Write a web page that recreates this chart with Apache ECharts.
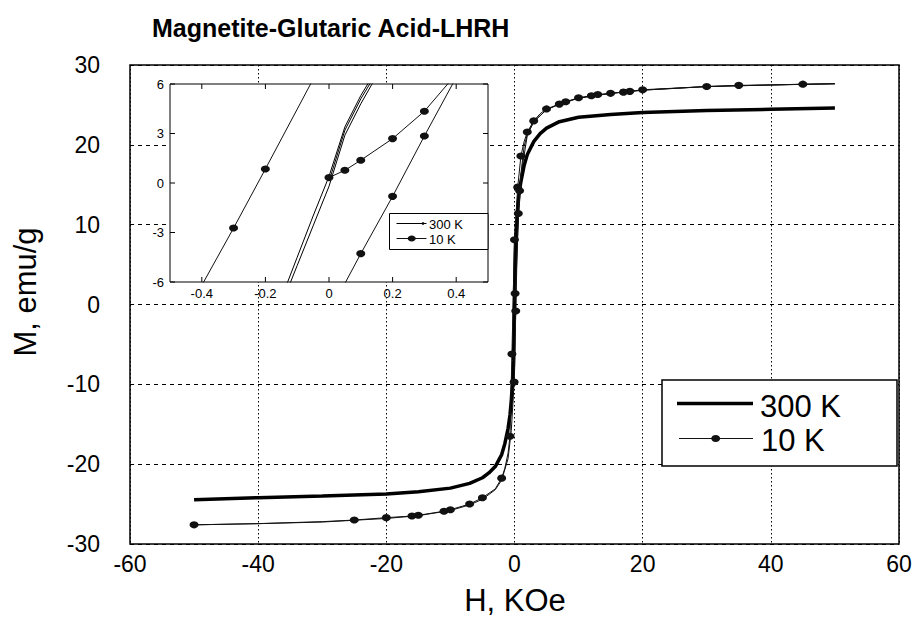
<!DOCTYPE html>
<html><head><meta charset="utf-8">
<script src="https://cdn.jsdelivr.net/npm/echarts@6/dist/echarts.min.js"></script>
<style>html,body{margin:0;padding:0;background:#fff}#c{width:917px;height:620px}</style>
</head><body><div id="c"></div>
<script>
const FONT = '"Liberation Sans", Arial, Helvetica, sans-serif';

// ---- tick labels ----
const mainXTicks = [-60, -40, -20, 0, 20, 40, 60];
const mainYTicks = [-30, -20, -10, 0, 10, 20, 30];
const insetXTicks = [-0.4, -0.2, 0, 0.2, 0.4];
const insetYTicks = [-6, -3, 0, 3, 6];
const insetXRange = [-0.5, 0.5];

// ---- 300 K (H in kOe, M in emu/g) ----
const hotVirginH = [0, 0.05, 0.1, 0.15, 0.2, 0.3, 0.5, 0.7, 1, 1.5, 2, 3, 4, 5, 7, 10, 15, 20, 30, 40, 50];
const hotVirginM = [0.1, 3.2, 5.1, 6.7, 8.1, 9.6, 12.0, 13.8, 15.4, 17.4, 18.8, 20.4, 21.4, 22.1, 22.9, 23.45, 23.8, 24.05, 24.3, 24.45, 24.6];
const hotDescH = [50, 40, 30, 20, 15, 10, 7, 5, 4, 3, 2, 1.5, 1, 0.7, 0.5, 0.3, 0.2, 0.15, 0.1, 0.05, 0, -0.05, -0.1, -0.15, -0.2, -0.3, -0.5, -0.7, -1, -1.5, -2, -3, -4, -5, -7, -10, -15, -20, -30, -40, -50];
const hotDescM = [24.6, 24.45, 24.3, 24.05, 23.8, 23.45, 22.9, 22.1, 21.4, 20.4, 18.8, 17.4, 15.4, 13.8, 12.0, 9.8, 8.3, 6.9, 5.3, 3.4, 0.4, -2.0, -4.5, -7.0, -8.4, -9.6, -12.0, -13.8, -15.5, -17.4, -18.8, -20.3, -21.1, -21.7, -22.4, -23.0, -23.45, -23.75, -24.0, -24.2, -24.45];
const hotAscH = [-50, -40, -30, -20, -15, -10, -7, -5, -4, -3, -2, -1.5, -1, -0.7, -0.5, -0.3, -0.2, -0.15, -0.1, -0.05, 0, 0.05, 0.1, 0.15, 0.2, 0.3, 0.5, 0.7, 1, 1.5, 2, 3, 4, 5, 7, 10, 15, 20, 30, 40, 50];
const hotAscM = [-24.45, -24.2, -24.0, -23.75, -23.45, -23.0, -22.4, -21.7, -21.1, -20.3, -18.8, -17.4, -15.5, -13.8, -12.0, -9.8, -8.6, -7.4, -5.0, -2.6, -0.2, 2.9, 4.8, 6.5, 8.0, 9.6, 12.0, 13.8, 15.4, 17.4, 18.8, 20.4, 21.4, 22.1, 22.9, 23.45, 23.8, 24.05, 24.3, 24.45, 24.6];

// ---- 10 K ----
const coldVirginH = [0, 0.05, 0.1, 0.2, 0.3, 0.4, 0.6, 1, 2, 3, 5, 7, 10, 15, 20, 30, 40, 50];
const coldVirginM = [0.33, 0.77, 1.38, 2.69, 4.35, 6.6, 10.6, 16.2, 21.2, 22.9, 24.4, 25.1, 25.85, 26.45, 26.85, 27.3, 27.5, 27.65];
const coldDescH = [50, 45, 40, 35, 30, 25, 20, 18, 17, 15, 13, 12, 10, 8, 7, 5, 4, 3, 2, 1.5, 1, 0.5, 0, -0.2, -0.3, -0.4, -0.7, -1, -1.5, -2, -3, -5, -7, -10, -11, -15, -16, -20, -25, -30, -40, -50];
const coldDescM = [27.65, 27.6, 27.5, 27.45, 27.3, 27.1, 26.9, 26.7, 26.6, 26.45, 26.3, 26.15, 25.9, 25.4, 25.1, 24.5, 23.9, 23.0, 21.6, 20.4, 18.6, 14.7, 8.1, 0.85, -2.73, -6.2, -16.5, -18.6, -20.5, -21.75, -23.1, -24.2, -25.0, -25.7, -25.9, -26.4, -26.5, -26.7, -27.0, -27.2, -27.45, -27.6];
const coldAscH = [-50, -40, -30, -20, -15, -10, -7, -5, -3, -2, -1, -0.5, -0.05, 0.1, 0.2, 0.3, 0.4, 0.6, 0.8, 1, 1.5, 2, 3, 5, 7, 10, 15, 20, 30, 40, 50];
const coldAscM = [-27.6, -27.45, -27.25, -26.8, -26.45, -25.8, -25.1, -24.4, -23.2, -22.0, -19.3, -15.8, -9.7, -4.28, -0.81, 2.85, 6.4, 11.4, 14.25, 16.4, 19.8, 21.3, 22.9, 24.4, 25.1, 25.85, 26.45, 26.85, 27.3, 27.5, 27.65];
// points that carry a marker (main plot / inset)
const mainVirginMarks = [0.1];
const mainDescMarks = [45, 35, 30, 20, 18, 17, 15, 13, 12, 10, 8, 7, 5, 3, 2, 1, 0.5, 0, -0.4, -0.7, -2, -5, -7, -10, -11, -15, -16, -20, -25, -50];
const mainAscMarks = [-0.05, 0.2, 0.6, 0.8];
const insetVirginMarks = [0, 0.05, 0.1, 0.2, 0.3];
const insetDescMarks = [-0.2, -0.3];
const insetAscMarks = [0.1, 0.2, 0.3];

function pairs(hs, ms) { return hs.map((h, i) => [h, ms[i]]); }
function marked(hs, ms, marks) {
  return hs.map((h, i) => ({ value: [h, ms[i]], symbol: marks.indexOf(h) >= 0 ? 'circle' : 'none' }));
}
const hotData = [].concat(pairs(hotVirginH, hotVirginM), pairs(hotDescH, hotDescM), pairs(hotAscH, hotAscM));
const coldMain = [].concat(
  marked(coldVirginH, coldVirginM, mainVirginMarks),
  marked(coldDescH, coldDescM, mainDescMarks),
  marked(coldAscH, coldAscM, mainAscMarks));
const coldInset = [].concat(
  marked(coldVirginH, coldVirginM, insetVirginMarks),
  marked(coldDescH, coldDescM, insetDescMarks),
  marked(coldAscH, coldAscM, insetAscMarks));

const chart = echarts.init(document.getElementById('c'), null, { renderer: 'svg' });
const lbl = (fs, m) => ({ color: '#000', fontFamily: FONT, fontSize: fs, margin: m });
const TICK = 5;
const tickStyle = { stroke: '#000', lineWidth: 1 };

// inward frame ticks of the inset, placed through the inset's own scales
function insetXTickItem(params, api) {
  const v = api.value(0);
  const b = api.coord([v, insetYTicks[0]]);
  const t = api.coord([v, insetYTicks[insetYTicks.length - 1]]);
  return { type: 'group', children: [
    { type: 'line', shape: { x1: b[0], y1: b[1], x2: b[0], y2: b[1] - TICK }, style: tickStyle },
    { type: 'line', shape: { x1: t[0], y1: t[1], x2: t[0], y2: t[1] + TICK }, style: tickStyle }
  ] };
}
function insetYTickItem(params, api) {
  const v = api.value(1);
  const l = api.coord([insetXRange[0], v]);
  const r = api.coord([insetXRange[1], v]);
  return { type: 'group', children: [
    { type: 'line', shape: { x1: l[0], y1: l[1], x2: l[0] + TICK, y2: l[1] }, style: tickStyle },
    { type: 'line', shape: { x1: r[0], y1: r[1], x2: r[0] - TICK, y2: r[1] }, style: tickStyle }
  ] };
}

const option = {
  animation: false,
  backgroundColor: '#fff',
  textStyle: { fontFamily: FONT },
  grid: [
    { left: 130, top: 65, right: 18, bottom: 76, show: true, borderColor: '#000', borderWidth: 1.5, backgroundColor: 'transparent', z: 1 },
    { left: 170, top: 84, width: 318, height: 198, show: true, borderColor: '#000', borderWidth: 1, backgroundColor: '#fff', z: 10 }
  ],
  xAxis: [
    { gridIndex: 0, type: 'value', min: mainXTicks[0], max: mainXTicks[mainXTicks.length - 1], interval: 20,
      axisLine: { show: false, onZero: false }, axisTick: { show: false },
      axisLabel: lbl(23, 8),
      splitLine: { show: true, lineStyle: { color: '#000', width: 1, type: [1.5, 2.5] } }, z: 0 },
    { gridIndex: 1, type: 'value', position: 'bottom', min: insetXRange[0], max: insetXRange[1],
      axisLine: { show: false, onZero: false }, axisTick: { show: false },
      axisLabel: Object.assign(lbl(13, 5), { customValues: insetXTicks, formatter: v => (v === 0 ? '0' : String(v)) }),
      splitLine: { show: false }, z: 11 }
  ],
  yAxis: [
    { gridIndex: 0, type: 'value', min: mainYTicks[0], max: mainYTicks[mainYTicks.length - 1], interval: 10,
      axisLine: { show: false, onZero: false }, axisTick: { show: false },
      axisLabel: lbl(23, 30),
      splitLine: { show: true, lineStyle: { color: '#000', width: 1, type: [4, 4] } }, z: 0 },
    { gridIndex: 1, type: 'value', position: 'left', min: insetYTicks[0], max: insetYTicks[insetYTicks.length - 1], interval: 3,
      axisLine: { show: false, onZero: false }, axisTick: { show: false },
      axisLabel: lbl(13, 6), splitLine: { show: false }, z: 11 }
  ],
  series: [
    { name: '300 K', type: 'line', xAxisIndex: 0, yAxisIndex: 0, data: hotData, symbol: 'none', showSymbol: false,
      lineStyle: { color: '#000', width: 3.5 }, z: 3, silent: true },
    { name: '10 K', type: 'line', xAxisIndex: 0, yAxisIndex: 0, data: coldMain, symbolSize: [9, 7], showSymbol: true,
      itemStyle: { color: '#111' }, lineStyle: { color: '#111', width: 1 }, z: 4, silent: true },
    { name: '300 K inset', type: 'line', xAxisIndex: 1, yAxisIndex: 1, data: hotData, symbol: 'none', showSymbol: false,
      lineStyle: { color: '#000', width: 1 }, z: 12, silent: true, clip: true },
    { name: '10 K inset', type: 'line', xAxisIndex: 1, yAxisIndex: 1, data: coldInset, symbolSize: [9, 7], showSymbol: true,
      itemStyle: { color: '#111' }, lineStyle: { color: '#111', width: 1 }, z: 13, silent: true, clip: true },
    { name: 'inset x ticks', type: 'custom', xAxisIndex: 1, yAxisIndex: 1, data: insetXTicks.map(v => [v, 0]),
      renderItem: insetXTickItem, z: 14, silent: true, clip: false },
    { name: 'inset y ticks', type: 'custom', xAxisIndex: 1, yAxisIndex: 1, data: insetYTicks.map(v => [0, v]),
      renderItem: insetYTickItem, z: 14, silent: true, clip: false }
  ],
  graphic: [
    { type: 'text', x: 152, y: 28, z: 30, style: { text: 'Magnetite-Glutaric Acid-LHRH', fontFamily: FONT, fontWeight: 'bold', fontSize: 25, fill: '#000', align: 'left', verticalAlign: 'middle' } },
    { type: 'text', x: 515, y: 600, z: 30, style: { text: 'H, KOe', fontFamily: FONT, fontSize: 31, fill: '#000', align: 'center', verticalAlign: 'middle' } },
    { type: 'text', x: 25, y: 292, rotation: Math.PI / 2, z: 30, style: { text: 'M, emu/g', fontFamily: FONT, fontSize: 31, fill: '#000', align: 'center', verticalAlign: 'middle' } },
    // main legend
    { type: 'rect', z: 30, shape: { x: 662, y: 380, width: 235, height: 86 }, style: { fill: '#fff', stroke: '#000', lineWidth: 1.5 } },
    { type: 'line', z: 31, shape: { x1: 677, y1: 403.5, x2: 753, y2: 403.5 }, style: { stroke: '#000', lineWidth: 3.5 } },
    { type: 'text', x: 760, y: 406, z: 31, style: { text: '300 K', fontFamily: FONT, fontSize: 31, fill: '#000', align: 'left', verticalAlign: 'middle' } },
    { type: 'line', z: 31, shape: { x1: 679, y1: 438.5, x2: 753, y2: 438.5 }, style: { stroke: '#111', lineWidth: 1 } },
    { type: 'ellipse', z: 32, shape: { cx: 715.7, cy: 438.5, rx: 4.5, ry: 3.5 }, style: { fill: '#111' } },
    { type: 'text', x: 761, y: 440, z: 31, style: { text: '10 K', fontFamily: FONT, fontSize: 31, fill: '#000', align: 'left', verticalAlign: 'middle' } },
    // inset legend
    { type: 'rect', z: 30, shape: { x: 389.5, y: 213.5, width: 98.5, height: 36 }, style: { fill: '#fff', stroke: '#000', lineWidth: 1 } },
    { type: 'line', z: 31, shape: { x1: 396.5, y1: 223.5, x2: 426.5, y2: 223.5 }, style: { stroke: '#000', lineWidth: 1 } },
    { type: 'circle', z: 32, shape: { cx: 423, cy: 223.5, r: 1.3 }, style: { fill: '#000' } },
    { type: 'text', x: 429, y: 224, z: 31, style: { text: '300 K', fontFamily: FONT, fontSize: 13, fill: '#000', align: 'left', verticalAlign: 'middle' } },
    { type: 'line', z: 31, shape: { x1: 396.5, y1: 238.5, x2: 426.5, y2: 238.5 }, style: { stroke: '#111', lineWidth: 1 } },
    { type: 'ellipse', z: 32, shape: { cx: 411.7, cy: 238.5, rx: 4, ry: 3 }, style: { fill: '#111' } },
    { type: 'text', x: 429, y: 239, z: 31, style: { text: '10 K', fontFamily: FONT, fontSize: 13, fill: '#000', align: 'left', verticalAlign: 'middle' } }
  ]
};
chart.setOption(option);
</script>
</body></html>
